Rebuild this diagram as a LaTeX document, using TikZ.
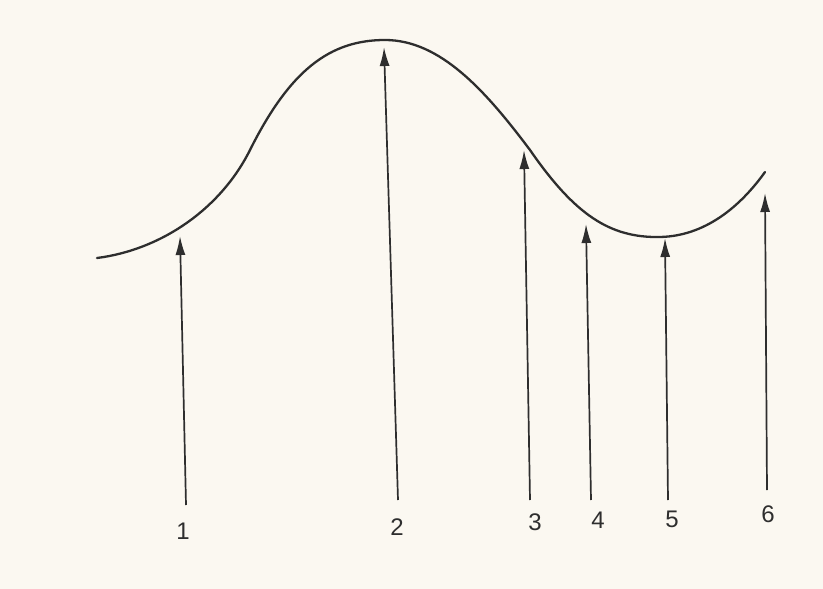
\documentclass[tikz,border=0pt]{standalone}
\usepackage{fontspec}
\setmainfont{Liberation Sans}
\usetikzlibrary{arrows.meta}
\definecolor{paper}{HTML}{FBF8F1}
\definecolor{ink}{HTML}{2E2E2E}
\tikzset{
  curveline/.style={draw=ink, line width=2.3pt, line cap=round},
  uparrow/.style={draw=ink, line width=1.7pt, -{Latex[length=19pt,width=10pt]}},
  numlabel/.style={text=ink, font=\fontsize{24}{26}\selectfont, inner sep=0pt}
}
\begin{document}
\begin{tikzpicture}[x=1pt,y=-1pt]
\fill[paper] (0,0) rectangle (823,589);
\useasboundingbox (0,0) rectangle (823,589);
% curve
\draw[curveline] (97,258) .. controls (160,250) and (220,210) .. (250,150)
  .. controls (290,70) and (330,40) .. (385,40)
  .. controls (440,40) and (485,90) .. (530,150)
  .. controls (575,215) and (610,238) .. (660,237)
  .. controls (710,236) and (745,200) .. (765,172);
% arrow end points
\coordinate (b1) at (186,505); \coordinate (t1) at (180,236);
\coordinate (b2) at (398,500); \coordinate (t2) at (384,47);
\coordinate (b3) at (530,500); \coordinate (t3) at (524,150);
\coordinate (b4) at (591,500); \coordinate (t4) at (586,224);
\coordinate (b5) at (668,500); \coordinate (t5) at (665,238);
\coordinate (b6) at (767,490); \coordinate (t6) at (765,193);
\foreach \i in {1,...,6} \draw[uparrow] (b\i) -- (t\i);
% labels
\node[numlabel] (l1) at (183,531) {1};
\node[numlabel] (l2) at (397,527) {2};
\node[numlabel] (l3) at (535,522) {3};
\node[numlabel] (l4) at (598,520) {4};
\node[numlabel] (l5) at (672,519) {5};
\node[numlabel] (l6) at (768,514) {6};
\end{tikzpicture}
\end{document}
